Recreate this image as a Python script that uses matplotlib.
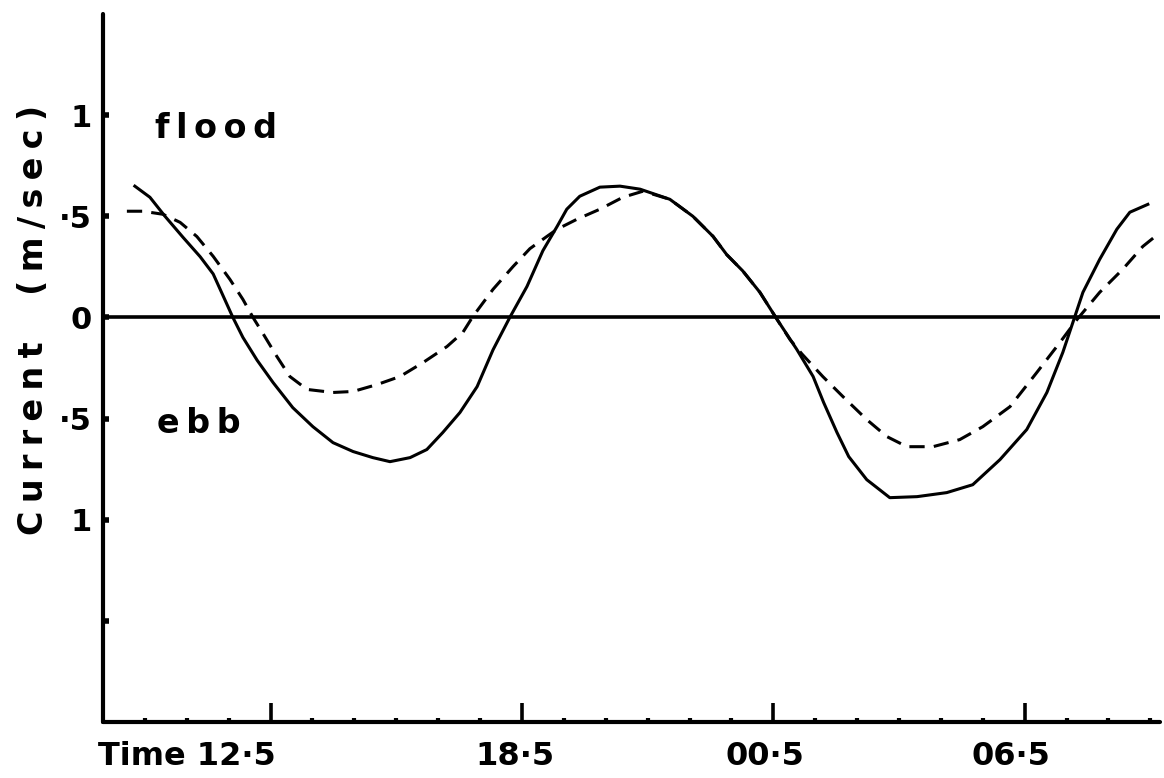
import matplotlib
matplotlib.use("Agg")
import matplotlib.pyplot as plt
import matplotlib.transforms as mtransforms
import numpy as np

# ---- data (hours since midnight of first day; 24.5 == 00.5 next day) ----
solid_t = [9.26, 9.62, 9.98, 10.41, 10.82, 11.13, 11.36, 11.60, 11.84, 12.18,
           12.56, 13.03, 13.51, 13.99, 14.47, 14.94, 15.35, 15.83, 16.23, 16.61,
           17.02, 17.43, 17.81, 18.21, 18.62, 19.00, 19.34, 19.57, 19.88, 20.36,
           20.84, 21.32, 22.03, 22.58, 23.06, 23.39, 23.77, 24.18, 24.59, 25.06,
           25.45, 25.70, 26.02, 26.30, 26.73, 27.28, 27.93, 28.64, 29.26, 29.91,
           30.55, 31.03, 31.41, 31.65, 31.89, 32.29, 32.70, 33.01, 33.44]
solid_v = [0.649, 0.594, 0.500, 0.396, 0.300, 0.215, 0.110, 0.000, -0.099, -0.212,
           -0.322, -0.446, -0.540, -0.619, -0.663, -0.693, -0.713, -0.693, -0.653, -0.569,
           -0.470, -0.342, -0.160, 0.000, 0.153, 0.330, 0.450, 0.535, 0.599, 0.644,
           0.649, 0.634, 0.584, 0.500, 0.401, 0.310, 0.230, 0.124, -0.010, -0.158,
           -0.292, -0.420, -0.569, -0.688, -0.802, -0.891, -0.886, -0.866, -0.827, -0.703,
           -0.554, -0.371, -0.173, -0.025, 0.124, 0.287, 0.436, 0.520, 0.559]

dashed_t = [9.07, 9.45, 9.93, 10.34, 10.74, 11.13, 11.53, 11.84, 12.08, 12.32,
            12.65, 12.96, 13.37, 13.99, 14.47, 15.04, 15.59, 16.14, 16.71, 17.09,
            17.33, 17.81, 18.29, 18.69, 19.10, 19.34, 19.81, 20.36, 20.91, 21.39,
            22.03, 22.58, 23.06, 23.39, 23.77, 24.18, 24.59, 24.90, 25.18, 25.68,
            26.16, 26.73, 27.21, 27.69, 28.31, 28.95, 29.50, 30.15, 30.79, 31.34,
            31.75, 32.29, 32.84, 33.32, 33.68]
dashed_v = [0.525, 0.525, 0.510, 0.470, 0.400, 0.302, 0.188, 0.089, 0.000, -0.080,
            -0.193, -0.292, -0.356, -0.371, -0.366, -0.332, -0.292, -0.223, -0.144, -0.074,
            0.005, 0.139, 0.252, 0.340, 0.401, 0.436, 0.485, 0.535, 0.594, 0.624,
            0.584, 0.500, 0.401, 0.310, 0.230, 0.124, -0.010, -0.110, -0.180, -0.292,
            -0.391, -0.505, -0.589, -0.639, -0.639, -0.604, -0.540, -0.441, -0.272, -0.124,
            -0.010, 0.124, 0.238, 0.351, 0.411]

x_major = [12.5, 18.5, 24.5, 30.5]
x_major_labels = ["Time 12·5", "18·5", "00·5", "06·5"]
x_minor = [h + 0.5 for h in range(9, 34)]
y_ticks = [1.0, 0.5, 0.0, -0.5, -1.0, -1.5]
y_tick_labels = ["1", "·5", "0", "·5", "1", ""]

FONT = "DejaVu Sans"

fig = plt.figure(figsize=(11.64, 7.78), dpi=100)
ax = fig.add_axes([103 / 1164, (778 - 722) / 778, (1160 - 103) / 1164, (722 - 14) / 778])

ax.set_xlim(8.5, 33.73)
ax.set_ylim(-2.0, 1.5)

ax.plot(solid_t, solid_v, color="black", lw=2.2, solid_joinstyle="round")
ax.plot(dashed_t, dashed_v, color="black", lw=2.2, dashes=(5, 3))
ax.axhline(0, color="black", lw=2.6)

for s in ["top", "right"]:
    ax.spines[s].set_visible(False)
for s in ["left", "bottom"]:
    ax.spines[s].set_linewidth(3.0)
    ax.spines[s].set_capstyle("round")

ax.set_xticks(x_major)
ax.set_xticks([m for m in x_minor if m not in x_major], minor=True)
ax.set_xticklabels(x_major_labels, fontsize=23, fontweight="bold", family=FONT)
ax.tick_params(axis="x", which="major", direction="in", length=14, width=2.6, pad=14)
ax.tick_params(axis="x", which="minor", direction="in", length=3, width=3)

labels = ax.get_xticklabels()
labels[0].set_horizontalalignment("right")
labels[0].set_transform(labels[0].get_transform() + mtransforms.ScaledTranslation(5 / 100, 0, fig.dpi_scale_trans))
for lab, dx in zip(labels[1:], [-7, -8, -14]):
    lab.set_transform(lab.get_transform() + mtransforms.ScaledTranslation(dx / 100, 0, fig.dpi_scale_trans))

ax.set_yticks(y_ticks)
ax.set_yticklabels(y_tick_labels, fontsize=22, fontweight="bold", family=FONT)
ax.tick_params(axis="y", direction="in", length=4, width=4, pad=8)

ts = "\u2009"
ax.text(9.75, 0.886, ts.join("flood"), fontsize=24, fontweight="bold", family=FONT,
        ha="left", va="baseline")
ax.text(9.79, -0.569, ts.join("ebb"), fontsize=24, fontweight="bold", family=FONT,
        ha="left", va="baseline")

ws = "\u2005"
fig.text(34 / 1164, 1 - 320 / 778, ws.join("Current") + "    " + ws.join("(m/sec)"),
         rotation=90, fontsize=24, fontweight="bold", family=FONT, ha="center", va="center")

fig.savefig("out.png", dpi=100, facecolor="white")
